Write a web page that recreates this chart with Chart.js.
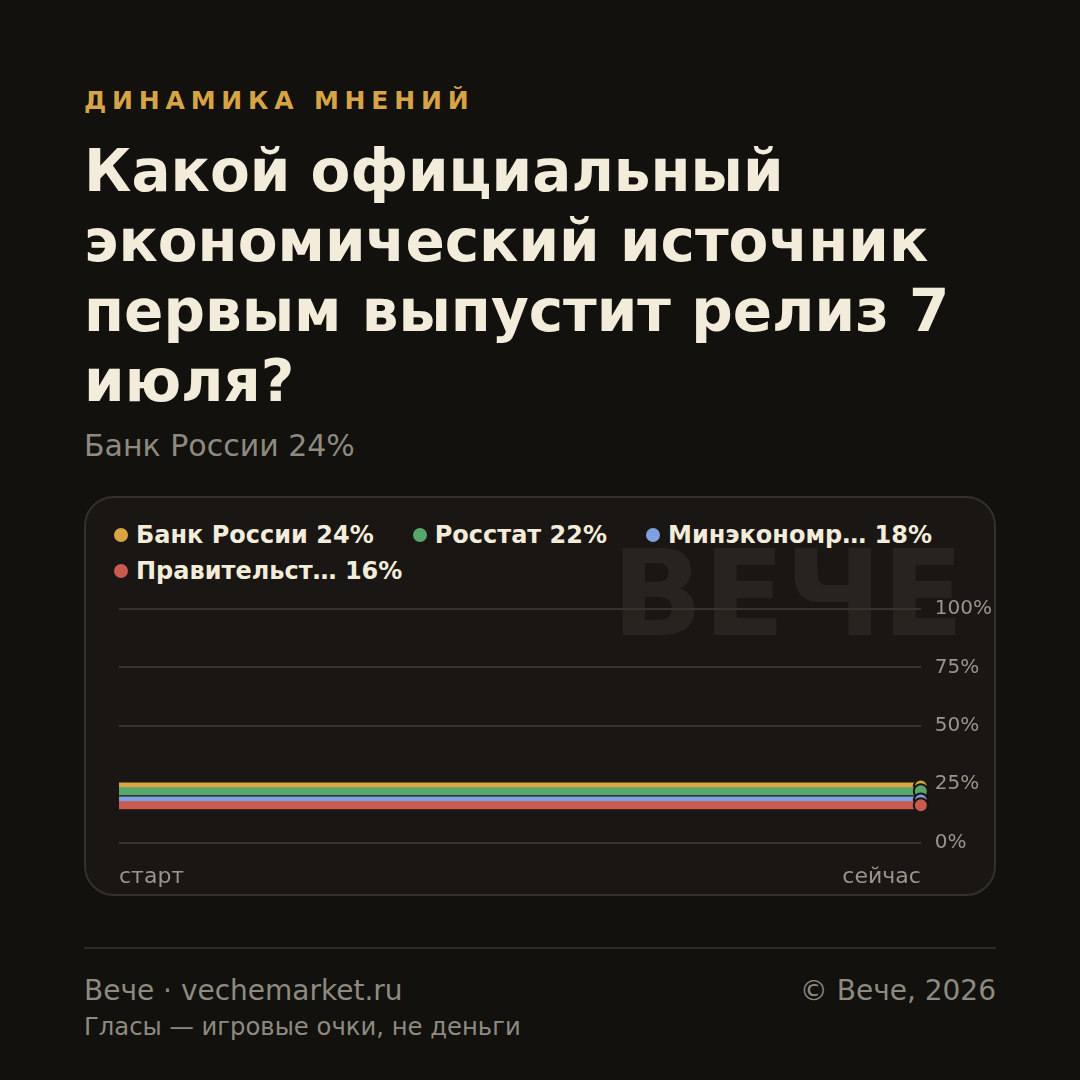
<!DOCTYPE html>
<html lang="ru">
<head>
<meta charset="utf-8">
<script src="https://cdn.jsdelivr.net/npm/chart.js@4"></script>
<style>
  html, body { margin: 0; padding: 0; }
  body {
    width: 1080px; height: 1080px; background: #12110e; position: relative;
    font-family: "DejaVu Sans", sans-serif; overflow: hidden;
  }
  .kicker {
    position: absolute; left: 84px; top: 86px;
    font-size: 25px; font-weight: bold; letter-spacing: 0.232em; color: #d6a446;
  }
  .title {
    position: absolute; left: 84px; top: 136px; width: 900px;
    font-size: 58px; line-height: 70px; font-weight: bold; color: #f3ecdb;
  }
  .lead {
    position: absolute; left: 84px; top: 428px;
    font-size: 30px; color: #8f8a80;
  }
  .card {
    position: absolute; left: 84px; top: 496px; width: 912px; height: 400px;
    box-sizing: border-box; border: 2px solid #34302a; border-radius: 30px;
    background: #191613;
  }
  .mark {
    position: absolute; right: 30px; top: 36px;
    font-size: 120px; line-height: 1; font-weight: bold; color: #27241f;
  }
  .legend {
    position: absolute; left: 28px; top: 24px; width: 870px;
    display: flex; flex-wrap: wrap; row-gap: 10px;
  }
  .legend .item {
    display: flex; align-items: center; margin-right: 39px;
    font-size: 24px; font-weight: bold; color: #f3ecdb; line-height: 26px;
  }
  .legend .dot {
    width: 14px; height: 14px; border-radius: 50%; margin-right: 8px;
  }
  .plot { position: absolute; left: 0; top: 85px; width: 920px; height: 334px; }
  .rule {
    position: absolute; left: 84px; top: 947px; width: 912px; height: 2px; background: #2e2b26;
  }
  .foot1 { position: absolute; left: 84px; top: 974px; font-size: 28px; color: #8f8a80; }
  .foot2 { position: absolute; right: 84px; top: 974px; font-size: 28px; color: #8f8a80; }
  .foot3 { position: absolute; left: 84px; top: 1012px; font-size: 24.3px; color: #8f8a80; }
</style>
</head>
<body>
<div class="kicker">ДИНАМИКА МНЕНИЙ</div>
<div class="title">Какой официальный экономический источник первым выпустит релиз 7 июля?</div>
<div class="lead" id="lead"></div>

<div class="card">
  <div class="mark">ВЕЧЕ</div>
  <div class="legend" id="legend"></div>
  <div class="plot"><canvas id="chart"></canvas></div>
</div>

<div class="rule"></div>
<div class="foot1">Вече · vechemarket.ru</div>
<div class="foot2">© Вече, 2026</div>
<div class="foot3">Гласы — игровые очки, не деньги</div>

<script>
// data
const timeLabels = ['старт', 'сейчас'];
const sources = ['Банк России', 'Росстат', 'Минэкономр…', 'Правительст…'];
const shares = [24, 22, 18, 16];
const colors = ['#d9a441', '#59a66d', '#7f9fdf', '#c85a4e'];
const yTicks = [0, 25, 50, 75, 100];

document.getElementById('lead').textContent = sources[0] + ' ' + shares[0] + '%';

// legend
const legend = document.getElementById('legend');
sources.forEach((name, i) => {
  const item = document.createElement('div');
  item.className = 'item';
  const dot = document.createElement('span');
  dot.className = 'dot';
  dot.style.background = colors[i];
  item.appendChild(dot);
  item.appendChild(document.createTextNode(name + ' ' + shares[i] + '%'));
  legend.appendChild(item);
});

const datasets = sources.map((name, i) => ({
  label: name,
  data: timeLabels.map(() => shares[i]),
  borderColor: colors[i],
  backgroundColor: colors[i],
  borderWidth: 8,
  pointRadius: [0, 7],
  pointHoverRadius: [0, 7],
  pointBorderWidth: 2,
  pointBorderColor: '#191613',
  pointBackgroundColor: colors[i],
  order: sources.length - i,
  clip: false
}));

new Chart(document.getElementById('chart').getContext('2d'), {
  type: 'line',
  data: { labels: timeLabels, datasets: datasets },
  options: {
    responsive: true,
    maintainAspectRatio: false,
    animation: false,
    layout: { padding: { left: 33, right: 0, top: 3, bottom: 6 } },
    plugins: { legend: { display: false }, tooltip: { enabled: false } },
    scales: {
      x: {
        offset: false,
        grid: { display: false, drawTicks: false },
        border: { display: false },
        ticks: {
          align: 'inner', padding: 21, color: '#9a958a',
          font: { family: 'DejaVu Sans', size: 22 }
        }
      },
      y: {
        position: 'right',
        min: 0, max: 100,
        afterBuildTicks: (axis) => { axis.ticks = yTicks.map(v => ({ value: v })); },
        grid: { color: '#36322c', lineWidth: 2, drawTicks: false },
        border: { display: false },
        ticks: {
          padding: 14, color: '#9a958a',
          font: { family: 'DejaVu Sans', size: 20 },
          callback: v => v + '%'
        }
      }
    }
  }
});
</script>
</body>
</html>
